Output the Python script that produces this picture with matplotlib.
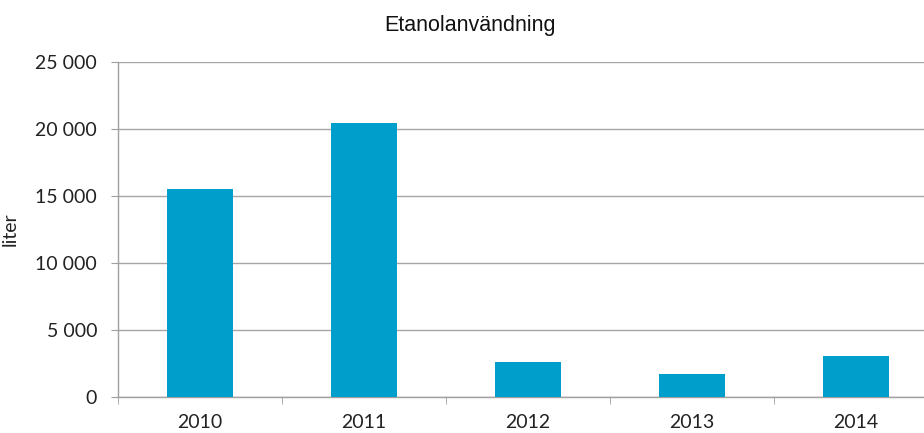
import matplotlib
matplotlib.use("Agg")
import matplotlib.pyplot as plt
import numpy as np

years = ["2010", "2011", "2012", "2013", "2014"]
values = [15550, 20420, 2590, 1740, 3060]
yticks = [0, 5000, 10000, 15000, 20000, 25000]
ytick_labels = ["0", "5 000", "10 000", "15 000", "20 000", "25 000"]

W, H = 924, 433
fig = plt.figure(figsize=(W / 100, H / 100), dpi=100)
left, right, top, bottom = 118, 938, 62, 397
ax = fig.add_axes([left / W, 1 - bottom / H, (right - left) / W, (bottom - top) / H])

x = np.arange(len(years))
ax.bar(x, values, width=0.4, color="#009ECB", zorder=3)

fam = ["Lato", "DejaVu Sans"]
ax.set_xlim(-0.5, len(years) - 0.5)
ax.set_ylim(0, 25000)
ax.set_yticks(yticks)
ax.set_yticklabels(ytick_labels, fontsize=14, family=fam, color="#222222")
ax.set_xticks(x)
ax.set_xticklabels(years, fontsize=14, family=fam, color="#222222")
ax.set_xticks(np.arange(len(years)) - 0.5, minor=True)
ax.tick_params(axis="x", which="major", length=0, pad=12)
ax.tick_params(axis="x", which="minor", length=5, color="#A0A0A0", direction="out")
ax.tick_params(axis="y", length=5, color="#A0A0A0", direction="out", pad=10)

ax.grid(axis="y", color="#A6A6A6", linewidth=1, zorder=0)
for s in ["top", "right"]:
    ax.spines[s].set_visible(False)
for s in ["left", "bottom"]:
    ax.spines[s].set_color("#A0A0A0")
    ax.spines[s].set_linewidth(1)

ax.set_ylabel("liter", fontsize=14, family=fam, color="#222222")
ax.yaxis.set_label_coords(-(118 - 19) / 820, 0.5)
fig.text(470 / W, 1 - 25 / H, "Etanolanvändning", ha="center", va="center",
         fontsize=15.5, family=["Liberation Sans", "DejaVu Sans"], color="#111111")

fig.savefig("out.png", dpi=100)
